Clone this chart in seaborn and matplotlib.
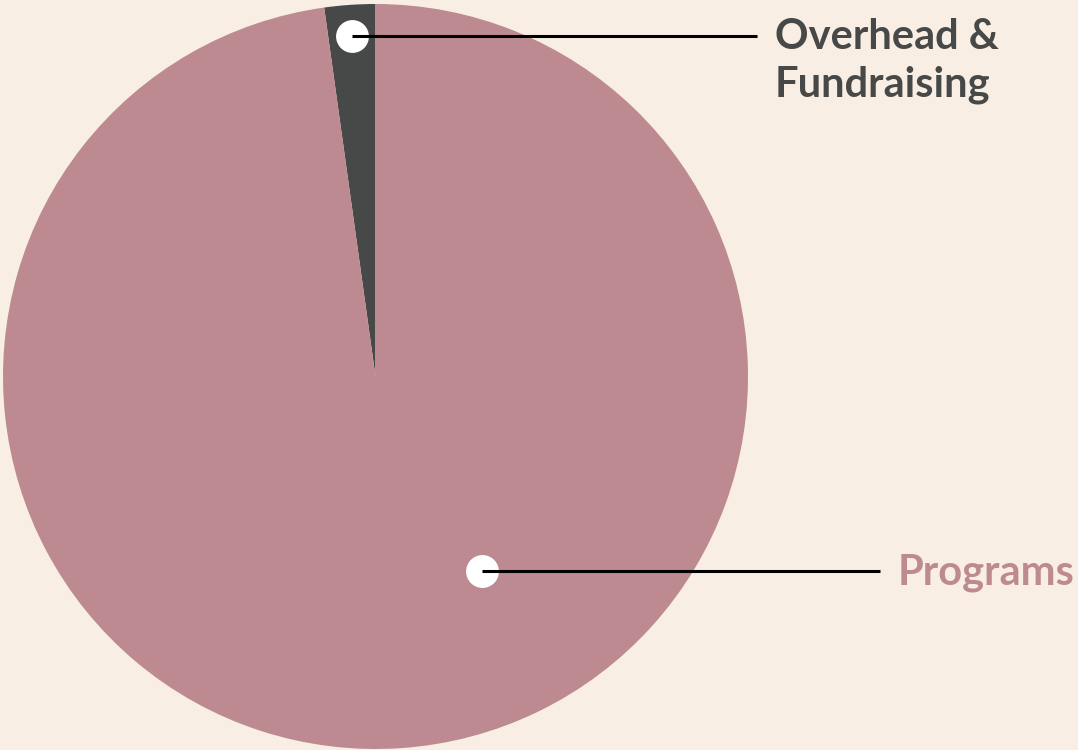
import matplotlib
matplotlib.use("Agg")
import matplotlib.pyplot as plt
import seaborn as sns

# share of spending
categories = ["Overhead &\nFundraising", "Programs"]
shares = [2.2, 97.8]
slice_colors = ["#464947", "#bc8a90"]
label_colors = ["#464947", "#bc8a90"]

BG = "#f9eee3"
W, H = 1078, 750

sns.set_theme(style="white", rc={"figure.facecolor": BG, "axes.facecolor": BG})
plt.rcParams["font.family"] = ["Lato", "DejaVu Sans"]

fig = plt.figure(figsize=(W / 100, H / 100), dpi=100)
ax = fig.add_axes([0, 0, 1, 1])

# pie in pixel coords (y flipped)
cx, cy, r = 375.5, H - 376.5, 372.5
ax.pie(shares, colors=slice_colors, startangle=90, counterclock=True,
       center=(cx, cy), radius=r, frame=True,
       wedgeprops={"linewidth": 0})
ax.set_xlim(0, W)
ax.set_ylim(0, H)
ax.set_aspect("auto")
ax.axis("off")

# callout dots, leader lines and labels (baseline of first line)
dots = [(352, 36), (482, 571)]
line_ends = [757, 880]
text_x = [775, 898]
text_y = [49, 584]
line_h = 48

for lab, col, (dx, dy), lx, tx, ty in zip(categories, label_colors, dots,
                                           line_ends, text_x, text_y):
    ax.scatter([dx], [H - dy], s=560, color="white", linewidths=0, zorder=3)
    ax.plot([dx, lx], [H - dy, H - dy], color="black", lw=2.2,
            solid_capstyle="butt", zorder=4)
    for i, part in enumerate(lab.split("\n")):
        ax.text(tx, H - ty - i * line_h, part, color=col, fontsize=30,
                fontweight="bold", ha="left", va="baseline", zorder=5)

fig.savefig("out.png", dpi=100, facecolor=BG)
